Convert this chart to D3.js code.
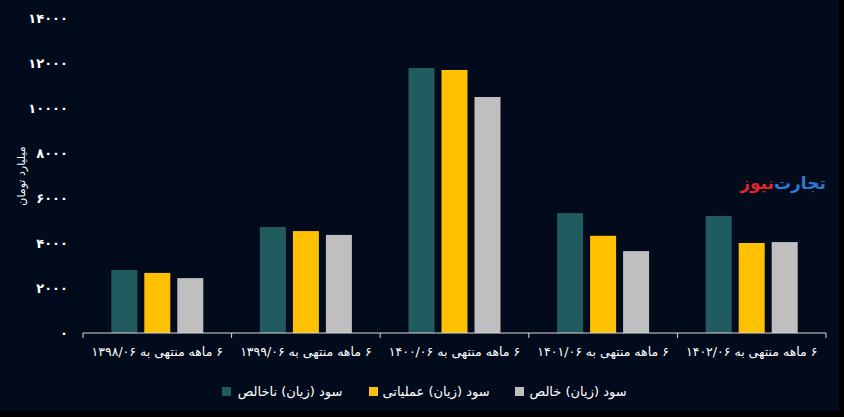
<!DOCTYPE html>
<html>
<head>
<meta charset="utf-8">
<script src="https://cdn.jsdelivr.net/npm/d3@7/dist/d3.min.js"></script>
<style>
  html, body { margin: 0; padding: 0; background: #000; }
  svg { display: block; }
  text { font-family: "DejaVu Sans", sans-serif; }
</style>
</head>
<body>
<svg id="chart" width="844" height="417"></svg>
<script>
const categories = [
  "۶ ماهه منتهی به ۱۳۹۸/۰۶",
  "۶ ماهه منتهی به ۱۳۹۹/۰۶",
  "۶ ماهه منتهی به ۱۴۰۰/۰۶",
  "۶ ماهه منتهی به ۱۴۰۱/۰۶",
  "۶ ماهه منتهی به ۱۴۰۲/۰۶"
];
const seriesNames = ["سود (زیان) ناخالص", "سود (زیان) عملیاتی", "سود (زیان) خالص"];
const grossProfit = [2800, 4710, 11780, 5330, 5200];
const operatingProfit = [2670, 4530, 11690, 4320, 4000];
const netProfit = [2440, 4360, 10490, 3640, 4040];
const yTicks = [0, 2000, 4000, 6000, 8000, 10000, 12000, 14000];
const yTickLabels = ["۰", "۲۰۰۰", "۴۰۰۰", "۶۰۰۰", "۸۰۰۰", "۱۰۰۰۰", "۱۲۰۰۰", "۱۴۰۰۰"];
const yAxisTitle = "میلیارد تومان";
const colors = ["#1f5b5f", "#ffc000", "#bfbfbf"];

const seriesValues = [grossProfit, operatingProfit, netProfit];

const svg = d3.select("#chart");
svg.append("rect").attr("width", 839).attr("height", 411).attr("fill", "#020b1c");

const x = d3.scaleBand().domain(categories).range([83, 826]).padding(0);
const y = d3.scaleLinear().domain([0, 14000]).range([333, 18]);
const bw = x.bandwidth();
const x1 = d3.scaleBand().domain(seriesNames).range([bw / 2 - 46, bw / 2 + 46]).paddingInner(0.212).paddingOuter(0);

// bars
categories.forEach((c, ci) => {
  const g = svg.append("g").attr("transform", `translate(${x(c)},0)`);
  seriesNames.forEach((s, si) => {
    const v = seriesValues[si][ci];
    g.append("rect")
      .attr("x", x1(s))
      .attr("y", y(v))
      .attr("width", x1.bandwidth())
      .attr("height", y(0) - y(v))
      .attr("fill", colors[si]);
  });
});

// y tick labels
const yAxis = d3.axisLeft(y).tickValues(yTicks).tickSize(0).tickPadding(0)
  .tickFormat((d, i) => yTickLabels[i]);
const yg = svg.append("g").attr("transform", "translate(68,0)").call(yAxis);
yg.select(".domain").remove();
yg.selectAll("text").attr("fill", "#ffffff").attr("font-size", 13).attr("font-weight", "bold");

// x axis
const xAxis = d3.axisBottom(x).tickSize(0).tickPadding(14);
const xg = svg.append("g").attr("transform", `translate(0,${y(0)})`).call(xAxis);
xg.select(".domain").attr("stroke", "#d9d9d9").attr("d", `M83,0H826`);
xg.selectAll("text").attr("fill", "#ffffff").attr("font-size", 12.5)
  .style("direction", "rtl").attr("text-anchor", "middle");
// band boundary ticks
const bounds = categories.map(c => x(c)).concat([x.range()[1]]);
xg.selectAll(".bt").data(bounds).enter().append("line")
  .attr("x1", d => d).attr("x2", d => d).attr("y1", 0).attr("y2", 5)
  .attr("stroke", "#d9d9d9");

// y title
svg.append("text")
  .attr("transform", "translate(25,176) rotate(-90)")
  .attr("text-anchor", "middle")
  .style("direction", "rtl")
  .attr("fill", "#ffffff").attr("font-size", 11)
  .text(yAxisTitle);

// legend
const legendSq = [222, 369, 515];
const legendTx = [290, 436, 578];
seriesNames.forEach((s, i) => {
  svg.append("rect").attr("x", legendSq[i]).attr("y", 387).attr("width", 9).attr("height", 9).attr("fill", colors[i]);
  svg.append("text").attr("x", legendTx[i]).attr("y", 396)
    .attr("text-anchor", "middle").style("direction", "rtl")
    .attr("fill", "#ffffff").attr("font-size", 13).text(s);
});

// watermark logo (single RTL text)
const logo = svg.append("text").attr("x", 783).attr("y", 189).attr("text-anchor", "middle")
  .style("direction", "rtl").attr("font-size", 17).attr("font-weight", "bold");
logo.append("tspan").attr("fill", "#2b7bd3").text("تجارت\u200C");
logo.append("tspan").attr("fill", "#e0262a").text("نیوز");
</script>
</body>
</html>
